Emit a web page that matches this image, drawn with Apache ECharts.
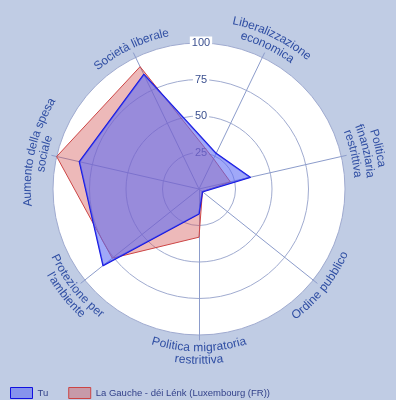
<!DOCTYPE html>
<html>
<head>
<meta charset="utf-8">
<script src="https://cdn.jsdelivr.net/npm/echarts@6/dist/echarts.min.js"></script>
<style>
  html, body { margin: 0; padding: 0; background: #c0cce4; }
  #chart { width: 396px; height: 400px; }
</style>
</head>
<body>
<div id="chart"></div>
<script>
// axes, counter-clockwise starting from the bottom
const categories = [
  'Politica migratoria restrittiva',
  'Ordine pubblico',
  'Politica finanziaria restrittiva',
  'Liberalizzazione economica',
  'Società liberale',
  'Aumento della spesa sociale',
  "Protezione per l'ambiente"
];
// how each axis name is broken into lines
const labelLines = [
  ['Politica migratoria', 'restrittiva'],
  ['Ordine pubblico'],
  ['Politica', 'finanziaria', 'restrittiva'],
  ['Liberalizzazione', 'economica'],
  ['Società liberale'],
  ['Aumento della spesa', 'sociale'],
  ['Protezione per', "l'ambiente"]
];
const seriesNames = ['Tu', 'La Gauche - déi Lénk (Luxembourg (FR))'];
const tuValues = [17, 3, 36, 27, 87, 84, 84];
const gaucheValues = [33, 3, 22, 23, 93, 100, 76];
const ticks = [25, 50, 75, 100];

const cx = 199, cy = 189, radius = 146;
const labelFont = '12px "Liberation Sans", Arial, sans-serif';

const ctx = document.createElement('canvas').getContext('2d');
ctx.font = labelFont;

// one text element per character, laid along the arc
function arcText(text, r, angleDeg, clockwise) {
  const els = [];
  const widths = [...text].map(ch => ctx.measureText(ch).width);
  const total = widths.reduce((a, b) => a + b, 0);
  const theta = angleDeg * Math.PI / 180;
  let acc = 0;
  [...text].forEach((ch, i) => {
    const off = (acc + widths[i] / 2 - total / 2) / r;
    acc += widths[i];
    const a = clockwise ? theta + off : theta - off;
    els.push({
      type: 'text',
      x: cx + r * Math.sin(a),
      y: cy - r * Math.cos(a),
      rotation: clockwise ? -a : Math.PI - a,
      z: 1,
      style: {
        text: ch,
        font: labelFont,
        fill: '#2f4ea3',
        align: 'center',
        verticalAlign: 'middle'
      }
    });
  });
  return els;
}

const graphics = [];
labelLines.forEach((lines, i) => {
  let ang = (180 - i * 360 / categories.length + 360) % 360;
  const top = ang > 270 || ang < 90;
  lines.forEach((line, j) => {
    const k = top ? lines.length - 1 - j : j;
    graphics.push(...arcText(line, 159 + k * 12.5, ang, top));
  });
});
// ring values at the top of the circles
ticks.forEach(t => {
  graphics.push({
    type: 'text',
    x: cx + 2,
    y: cy - radius * t / 100,
    z: 1,
    style: {
      text: String(t),
      font: '11px "Liberation Sans", Arial, sans-serif',
      fill: '#3a4f8f',
      align: 'center',
      verticalAlign: 'middle',
      backgroundColor: '#ffffff',
      padding: [1, 2]
    }
  });
});

const indicator = categories.map(name => ({ name: name, min: 0, max: 100 }));

const chart = echarts.init(document.getElementById('chart'));
chart.setOption({
  backgroundColor: '#c0cce4',
  animation: false,
  radar: [
    {
      // white disc with the rings
      center: [cx, cy],
      radius: radius,
      startAngle: -90,
      shape: 'circle',
      splitNumber: 4,
      indicator: indicator,
      axisName: { show: false },
      axisLine: { show: false },
      splitLine: { lineStyle: { color: '#a0abd0', width: 1 } },
      splitArea: { areaStyle: { color: ['#ffffff'] } }
    },
    {
      // spokes, a little longer than the disc
      center: [cx, cy],
      radius: 151,
      startAngle: -90,
      shape: 'circle',
      indicator: indicator,
      axisName: { show: false },
      axisLine: { lineStyle: { color: '#8c9ccb', width: 1 } },
      splitLine: { show: false },
      splitArea: { show: false }
    }
  ],
  legend: {
    left: 10,
    top: 387,
    padding: 0,
    icon: 'rect',
    itemWidth: 22,
    itemHeight: 11,
    itemGap: 20,
    textStyle: { fontSize: 9.5, color: '#33428a', fontFamily: '"Liberation Sans", Arial' },
    data: [
      { name: seriesNames[0], itemStyle: { color: 'rgba(91,105,243,0.58)', borderColor: '#1010e0', borderWidth: 1 } },
      { name: seriesNames[1], itemStyle: { color: 'rgba(210,80,80,0.4)', borderColor: '#cc4444', borderWidth: 1 } }
    ]
  },
  graphic: graphics,
  series: [
    {
      name: seriesNames[1],
      type: 'radar',
      radarIndex: 0,
      symbol: 'none',
      lineStyle: { color: '#cc4444', width: 1 },
      itemStyle: { color: '#cc4444' },
      areaStyle: { color: 'rgba(210,80,80,0.4)', opacity: 1 },
      data: [{ value: gaucheValues, name: seriesNames[1] }]
    },
    {
      name: seriesNames[0],
      type: 'radar',
      radarIndex: 0,
      symbol: 'none',
      lineStyle: { color: '#1010e0', width: 1.5 },
      itemStyle: { color: '#1010e0' },
      areaStyle: { color: 'rgba(91,105,243,0.58)', opacity: 1 },
      data: [{ value: tuValues, name: seriesNames[0] }]
    }
  ]
});
</script>
</body>
</html>
